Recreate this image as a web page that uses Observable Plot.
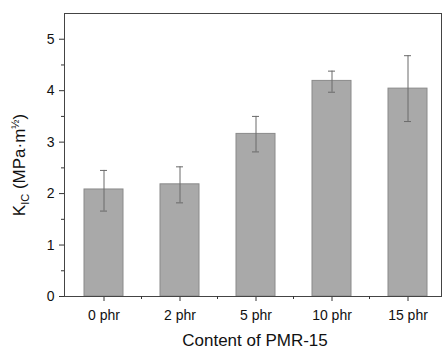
<!DOCTYPE html>
<html>
<head>
<meta charset="utf-8">
<script src="https://cdn.jsdelivr.net/npm/d3@7"></script>
<script src="https://cdn.jsdelivr.net/npm/@observablehq/plot@0.6"></script>
<style>
  html, body { margin: 0; padding: 0; background: #fff; }
  svg { display: block; }
</style>
</head>
<body>
<div id="chart"></div>
<script>
const categories = ["0 phr", "2 phr", "5 phr", "10 phr", "15 phr"];
const means = [2.08, 2.18, 3.16, 4.19, 4.04];
const errLow = [1.66, 1.82, 2.81, 3.97, 3.40];
const errHigh = [2.45, 2.52, 3.50, 4.38, 4.68];
const yTicks = [0, 1, 2, 3, 4, 5];
const yMinorTicks = [0.5, 1.5, 2.5, 3.5, 4.5];

const data = categories.map((c, i) => ({cat: c, mean: means[i], lo: errLow[i], hi: errHigh[i]}));

const font = "'Liberation Sans', Arial, Helvetica, sans-serif";
const W = 443, H = 349;
const mL = 64, mR = 2, mT = 13, mB = 53;

const plot = Plot.plot({
  width: W,
  height: H,
  marginLeft: mL,
  marginRight: mR,
  marginTop: mT,
  marginBottom: mB,
  style: {fontFamily: font, background: "#fff", color: "#111"},
  x: {domain: categories, range: [65, 445], paddingInner: 0.49, paddingOuter: 0.245, align: 0.5},
  y: {domain: [0, 5.5]},
  marks: [
    Plot.barY(data, {x: "cat", y: "mean", fill: "#a9a9a9", stroke: "#8a8a8a", strokeWidth: 1}),
    Plot.ruleX(data, {x: "cat", y1: "lo", y2: "hi", stroke: "#6a6a6a", strokeWidth: 1}),
    Plot.tickY(data, {x: "cat", y: "lo", stroke: "#6a6a6a", insetLeft: 16, insetRight: 16}),
    Plot.tickY(data, {x: "cat", y: "hi", stroke: "#6a6a6a", insetLeft: 16, insetRight: 16}),
    Plot.axisY(yMinorTicks, {tickSize: 3, tickFormat: () => "", label: null, stroke: "#333"}),
    Plot.axisY(yTicks, {tickSize: 5, tickPadding: 5, fontSize: 14, tickFormat: d3.format("d"), label: null, stroke: "#333", fill: "#111"}),
    Plot.axisX({tickSize: 5, tickPadding: 9, fontSize: 14, label: null, stroke: "#333", fill: "#111"}),
    Plot.frame({stroke: "#444", strokeWidth: 1})
  ]
});

document.getElementById("chart").appendChild(plot);

const svg = d3.select(plot);
const xs = plot.scale("x");
const bw = xs.bandwidth;
// minor x ticks between categories
for (let i = 1; i < categories.length; i++) {
  const p = (xs.apply(categories[i - 1]) + bw + xs.apply(categories[i])) / 2;
  svg.append("line")
    .attr("x1", p).attr("x2", p)
    .attr("y1", H - mB).attr("y2", H - mB + 3)
    .attr("stroke", "#333");
}

// x axis title
svg.append("text")
  .attr("x", 255).attr("y", 346)
  .attr("text-anchor", "middle")
  .attr("font-size", 17)
  .attr("font-family", font)
  .attr("fill", "#111")
  .text("Content of PMR-15");

// y axis title with subscript and superscript
const yt = svg.append("text")
  .attr("transform", "translate(25,165) rotate(-90)")
  .attr("text-anchor", "middle")
  .attr("font-size", 17)
  .attr("font-family", font)
  .attr("fill", "#111");
yt.append("tspan").text("K");
yt.append("tspan").attr("font-size", 11).attr("dy", 4).text("IC");
yt.append("tspan").attr("dy", -4).text(" (MPa·m");
yt.append("tspan").attr("font-size", 11).attr("dy", -6).text("½");
yt.append("tspan").attr("dy", 6).text(")");
</script>
</body>
</html>
